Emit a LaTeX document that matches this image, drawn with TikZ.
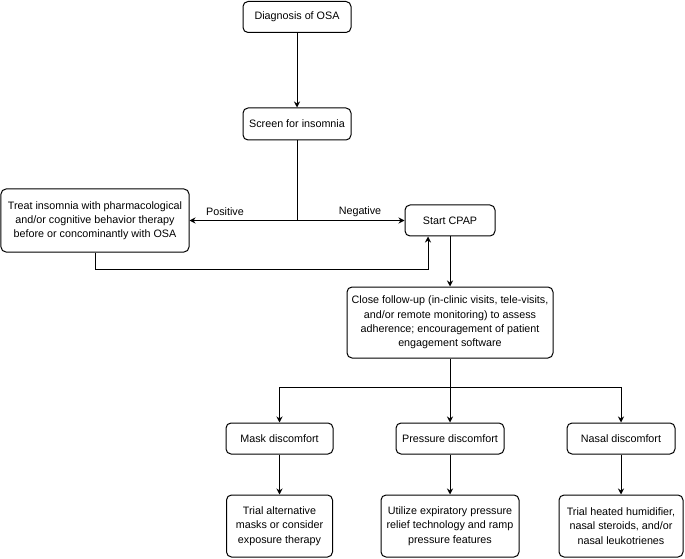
\documentclass[tikz,border=0pt]{standalone}
\usepackage{fontspec}
\setmainfont{Liberation Sans}
\usetikzlibrary{arrows.meta}
\begin{document}
\begin{tikzpicture}[x=1bp,y=-1bp,
  box/.style={draw, rounded corners=5bp, line width=1bp, align=center, inner sep=2bp,
    font=\fontsize{10.8}{14.3}\selectfont},
  arr/.style={line width=1bp, -{Stealth[length=6bp,width=6bp]}},
  ln/.style={line width=1bp},
  lbl/.style={font=\fontsize{10.8}{13}\selectfont, inner sep=0pt}]
\useasboundingbox (0,0) rectangle (685,559);
\node[box, minimum width=108bp, minimum height=31bp] (diag) at (297,17) {Diagnosis of OSA};
\node[box, minimum width=108bp, minimum height=32bp] (screen) at (297,124) {Screen for insomnia};
\node[box, minimum width=188bp, minimum height=63bp] (treat) at (95,220.5) {Treat insomnia with pharmacological\\and/or cognitive behavior therapy\\before or concominantly with OSA};
\node[box, minimum width=90bp, minimum height=31bp] (cpap) at (450,220.5) {Start CPAP};
\node[box, minimum width=206bp, minimum height=71bp] (follow) at (450,322.5) {Close follow-up (in-clinic visits, tele-visits,\\and/or remote monitoring) to assess\\adherence; encouragement of patient\\engagement software};
\node[box, minimum width=107bp, minimum height=31bp] (mask) at (279.5,438.5) {Mask discomfort};
\node[box, minimum width=108bp, minimum height=31bp] (press) at (450,438.5) {Pressure discomfort};
\node[box, minimum width=108bp, minimum height=31bp] (nasal) at (621,438.5) {Nasal discomfort};
\node[box, minimum width=106bp, minimum height=62bp] (masks) at (279.5,526) {Trial alternative\\masks or consider\\exposure therapy};
\node[box, minimum width=138bp, minimum height=62bp] (presss) at (450,526) {Utilize expiratory pressure\\relief technology and ramp\\pressure features};
\node[box, minimum width=124bp, minimum height=62bp] (nasals) at (621,526) {Trial heated humidifier,\\nasal steroids, and/or\\nasal leukotrienes};
\coordinate (br) at (297,220.5);
\coordinate (br2) at (450,387);
\draw[arr] (diag) -- (screen);
\draw[ln] (screen) -- (br);
\draw[arr] (br) -- (treat.east);
\draw[arr] (br) -- (cpap.west);
\node[lbl] (pos) at (225,212) {Positive};
\node[lbl] (neg) at (360,212) {Negative};
\draw[arr] (treat.south) |- (428,269) -- (428,236 |- cpap.south);
\draw[arr] (cpap) -- (follow);
\draw[ln] (follow) -- (br2);
\draw[arr] (br2) -| (mask.north);
\draw[arr] (br2) -- (press.north);
\draw[arr] (br2) -| (nasal.north);
\draw[arr] (mask) -- (masks);
\draw[arr] (press) -- (presss);
\draw[arr] (nasal) -- (nasals);
\end{tikzpicture}
\end{document}
